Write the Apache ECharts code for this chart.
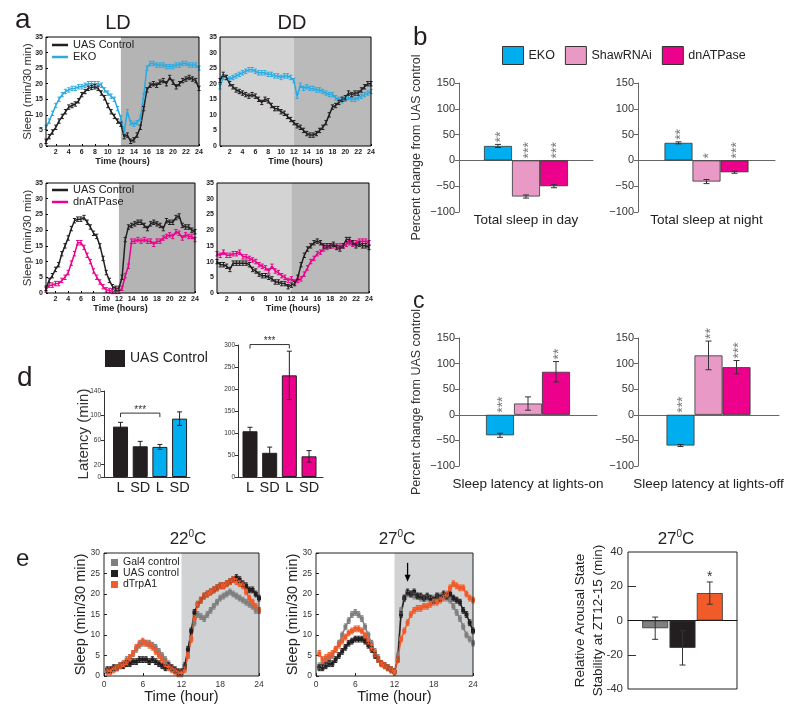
<!DOCTYPE html>
<html><head><meta charset="utf-8">
<script src="https://cdn.jsdelivr.net/npm/echarts@6/dist/echarts.min.js"></script>
<style>html,body{margin:0;padding:0;background:#fff}#c{width:800px;height:714px}</style>
</head><body><div id="c"></div>
<script>
// ---------------- DATA ----------------
const hours = [0.5,1,1.5,2,2.5,3,3.5,4,4.5,5,5.5,6,6.5,7,7.5,8,8.5,9,9.5,10,10.5,11,11.5,12,12.5,13,13.5,14,14.5,15,15.5,16,16.5,17,17.5,18,18.5,19,19.5,20,20.5,21,21.5,22,22.5,23,23.5,24];
const aTickHours = [2,4,6,8,10,12,14,16,18,20,22,24];
const ldDark = [[12,24]];
const ddPhases = [[0.5,12],[12,24]];
const eDark = [[12,24]];
const semA = 0.7, semE = 0.7;

const ldTopUAS = [1.5,3,4.5,6,8,9.5,11,12.5,13,13.5,14.5,16.5, 17.5,18.5,18.8,19,18.5,17,15.5,13,11,9.5,8,7, 3,3.5,1.5,2,3.5,6,12,18,19.5,20,19.5,20.5, 21,20,22,20.5,19,20,21,21.5,22,21.5,21,18.5];
const ldTopEKO = [6,8,10.5,13,15,16.5,17.5,18,18.5,18.5,19,19, 19.5,20,20,20,20,19.5,18,17,16,15,12,9, 4.5,11,7.5,7,7.5,9,16,25,26.5,26.5,26,26, 26,25.5,25.5,25.5,26,26,26.5,26.5,26,26,26,25];
const ddTopUAS = [21,23,22,20,19,18,17.5,17,16.5,16,16.5,16, 15,14,15,14.5,13,12,12,11,10.5,9.5,8.5,7.5, 6.5,6,5,4,3.5,3.5,4,5,6,7.5,10,12.5, 13,14,15,15.5,17,16.5,17,17,18,19,20,20];
const ddTopEKO = [19,22,22,21.5,22,22.5,23,23.5,24,24.5,24.5,24, 23.5,23.5,23.5,23,23,22.5,22.5,22,22.5,22.5,22,21, 16,19.5,18.5,19,18.5,18.5,18,18,17.5,17,16.5,16.5, 15.5,15,14.5,15,15.5,15,15,15.5,16,16.5,17,17.5];
const ldBotUAS = [1.5,4,5.5,7.5,9,12.5,15,17.5,20.5,23,23.5,23.5, 24,22.5,21,19,18,15,11,6.5,4,2,1.5,1.5, 5,17,21,21.5,22,22.5,22.5,21.5,20.5,22,22.5,22, 21.5,20.5,23,22.5,22.5,24,24.5,21.5,21,21,20,19.5];
const ldBotATP = [1,2.5,2.5,3,3,4,5,6.5,9.5,12.5,16,16, 14.5,12,10,7,5,3.5,2,1,0.8,0.5,0.5,0.5, 1.5,5.5,8.5,16.5,16.5,17,16.5,17,16.5,16.5,15.5,16.5, 16.5,17.5,18,18.5,18,19.5,19,17.5,18.5,18,18,17];
const ddBotUAS = [10,9,9,8.5,7.5,9.5,9.5,9.5,9.5,9.5,9,7.5, 7,6,5.5,5.5,5,4.5,3.5,3.5,3,3,2,2.5, 3,5,9,12,14,15,16,16.5,16,15,15,15, 15.5,14.5,14,15,17,17,16,15,15.5,15,15,14.5];
const ddBotATP = [12.5,12,13,12,12,12.5,12.5,13,11.5,11.5,11,10.5, 10,9,8.5,8,7,8.5,7,6.5,5.5,5,4,4.5, 3.5,4,4.5,6,8,10,11,12.5,13,14,14.5,15, 15,15,15,15,15.5,16,15.5,16,16.5,16.5,16.5,16];

const genotypes = ['EKO','ShawRNAi','dnATPase'];
const bDayPct = [28,-70,-50],  bDayErr = [3,3,3],  bDayStars = ['**','***','***'];
const bNightPct = [34,-41,-23], bNightErr = [2,4,2], bNightStars = ['**','*','***'];
const cOnPct = [-40,22,84],   cOnErr = [4,13,20],  cOnStars = ['***','','**'];
const cOffPct = [-60,116,93], cOffErr = [2,28,13], cOffStars = ['***','**','***'];

const dCats = ['L','SD','L','SD'];
const dEkoLat = [82,50,49,95], dEkoErr = [7,8,4,11];
const dAtpLat = [104,55,231,47], dAtpErr = [9,13,55,13];
const dEkoTicks = [0,20,60,100,140];
const dAtpTicks = [0,50,100,150,200,250,300];
const dEkoSig = [[1,3,104]], dAtpSig = [[1,3,301]];

const eGenos = ['Gal4 control','UAS control','dTrpA1'];
const e22Gal4 = [1.5,1.5,2,2,2.5,3,4,4.5,5.5,6.5,7.5,8, 8,8,7.5,7,6,5,4,3,2,1.5,1,1, 2,5,9,13,15,14.5,14,15,16,17,18,19, 19.5,20,20.5,20,19.5,19,18.5,18,17.5,17,16,16];
const e22UAS  = [1.5,1.5,2,2,2.5,2.5,3,3,3.5,3.5,4,4, 4,3.5,4,3.5,3,2.5,2,2.5,2,1.5,1,1, 2.5,6.5,11,15.5,17.5,18.5,19.5,20,20.5,21,21.5,22, 22,22.5,23,23.5,24,23.5,22.5,22,21,21,20,19];
const e22Trp  = [1,1,1.5,2,2.5,3,3.5,4.5,5.5,7,8,8.5, 8,7.5,7,6,5,4,3,2,1.5,1,0.5,0.5, 1.5,5,9,14,17.5,18.5,19.5,20,20.5,21,21.5,22, 22,22.5,23,23.5,23,22.5,22,20.5,19,18,17,16];
const e27Gal4 = [2.5,3,3.5,4,5,6.5,8,10,12,13.5,15,15.5, 15,14,12,10,8,6,4.5,3,2.5,2,1.5,1, 5,16,19,20,20,19.5,19.5,19,19,19,18.5,19, 19.5,19.5,19.5,19,18.5,17,15.5,14,12,10,9,8];
const e27UAS  = [2,2,2.5,3,3,4,5,6,7,8,8.5,9, 9,9,8.5,7.5,6.5,5,4,3,2.5,2,1.5,1, 4,15,19,20.5,20,20.5,19.5,19.5,19,19.5,19,18.5, 19.5,19,20,19.5,20,19,18.5,18,16,15,13,11];
const e27Trp  = [5.5,4,4.5,5,5.5,6.5,7.5,8.5,9.5,10.5,11,11.5, 11.5,11,10,8.5,7,5.5,4,3,2.5,2,1.5,1, 4,9,11,13,15,16,16.5,16.5,17,17,17.5,18, 18,18.5,19,20,21.5,22.5,22,21.5,21.5,20,19,18.5];
const eArrow = [[14,27.6,23.0]];
const eArousal = [-4.5,-16,16], eArousalErr = [6.5,10,6.5], eArousalStars = ['','','*'];
const eArousalTicks = [-20,20];

// ---------------- STYLE ----------------
const NF = "'Liberation Sans',Arial,sans-serif";
const C = {ctrl:'#231f20', eko:'#29abe2', ekoBar:'#00aeef', shaw:'#e899c5', atp:'#ec008c', gal4:'#7f7f7f', trp:'#f15a29'};
const genoColors = [C.ekoBar, C.shaw, C.atp];
const eColors = [C.gal4, C.ctrl, C.trp];

const grid=[], xAxis=[], yAxis=[], series=[];
const addG=o=>{grid.push(o);return grid.length-1;};
const addX=o=>{xAxis.push(Object.assign({nameMoveOverlap:false}, o));return xAxis.length-1;};
const addY=o=>{yAxis.push(Object.assign({nameMoveOverlap:false}, o));return yAxis.length-1;};

function shadeSeries(xi, yi, regions, colors){
  return {type:'custom', xAxisIndex:xi, yAxisIndex:yi, z:1, silent:true, data:regions,
    renderItem(params, api){
      const cs=params.coordSys;
      const a=api.coord([api.value(0),0])[0], b=api.coord([api.value(1),0])[0];
      return {type:'rect', shape:{x:a,y:cs.y,width:b-a,height:cs.height}, style:{fill:colors[params.dataIndex]}};
    }};
}
function tsLine(xi, yi, name, vals, color, sym){
  return {type:'line', name, xAxisIndex:xi, yAxisIndex:yi, z:3, silent:true, color,
    data:hours.map((h,i)=>[h,vals[i]]),
    showSymbol:!!sym, symbol:sym||'none', symbolSize:4, itemStyle:{color},
    lineStyle:{width:1.5, color}};
}
function tsErr(xi, yi, vals, sem, color){
  return {type:'custom', xAxisIndex:xi, yAxisIndex:yi, z:4, silent:true,
    data:hours.map((h,i)=>[h,vals[i],sem]),
    renderItem(params, api){
      const x=api.value(0), y=api.value(1), e=api.value(2);
      const p1=api.coord([x,y+e]), p2=api.coord([x,y-e]), w=1.6;
      const st={stroke:color, lineWidth:1};
      return {type:'group', children:[
        {type:'line', shape:{x1:p1[0],y1:p1[1],x2:p2[0],y2:p2[1]}, style:st},
        {type:'line', shape:{x1:p1[0]-w,y1:p1[1],x2:p1[0]+w,y2:p1[1]}, style:st},
        {type:'line', shape:{x1:p2[0]-w,y1:p2[1],x2:p2[0]+w,y2:p2[1]}, style:st}]};
    }};
}
function barErr(xi, yi, vals, errs, stars, step, vertical){
  const n=vals.length;
  return {type:'custom', xAxisIndex:xi, yAxisIndex:yi, z:5, silent:true,
    data:vals.map((v,i)=>[0,v,errs[i],i]),
    renderItem(params, api){
      const v=api.value(1), e=api.value(2), i=api.value(3);
      const off=(i-(n-1)/2)*step;
      const t=api.coord([0,v+e]), b=api.coord([0,v-e]);
      const x=t[0]+off, w=3, st={stroke:'#333', lineWidth:1};
      const ch=[
        {type:'line', shape:{x1:x,y1:t[1],x2:x,y2:b[1]}, style:st},
        {type:'line', shape:{x1:x-w,y1:t[1],x2:x+w,y2:t[1]}, style:st},
        {type:'line', shape:{x1:x-w,y1:b[1],x2:x+w,y2:b[1]}, style:st}];
      const s=stars[i];
      if(s){
        const base=api.coord([0,Math.max(0,v+e)])[1];
        if(vertical) ch.push({type:'text', x:x+3, y:base-2, rotation:Math.PI/2,
          style:{text:s, fill:'#777', fontSize:14, fontFamily:NF, align:'left', verticalAlign:'middle'}});
        else ch.push({type:'text', x:x, y:base+2,
          style:{text:s, fill:'#333', fontSize:14, fontFamily:NF, align:'center', verticalAlign:'bottom'}});
      }
      return {type:'group', children:ch};
    }};
}

// ---------------- PANEL a ----------------
const aPanels = [
  {g:{left:46,top:37,width:153,height:109}, ctrl:ldTopUAS, exp:ldTopEKO, en:'EKO', ec:C.eko, dd:false, yName:true},
  {g:{left:220,top:37,width:151,height:109}, ctrl:ddTopUAS, exp:ddTopEKO, en:'EKO', ec:C.eko, dd:true, yName:false},
  {g:{left:46,top:183,width:149,height:110}, ctrl:ldBotUAS, exp:ldBotATP, en:'dnATPase', ec:C.atp, dd:false, yName:true},
  {g:{left:217,top:183,width:152,height:110}, ctrl:ddBotUAS, exp:ddBotATP, en:'dnATPase', ec:C.atp, dd:true, yName:false}];
aPanels.forEach(p=>{
  const gi=addG(Object.assign({show:true, borderColor:'#000', borderWidth:1, z:10}, p.g));
  const xi=addX({type:'value', gridIndex:gi, min:0.5, max:24,
    axisLine:{show:false}, splitLine:{show:false},
    axisTick:{inside:true, length:2, customValues:aTickHours, lineStyle:{color:'#000'}},
    axisLabel:{customValues:aTickHours, fontSize:7, fontWeight:'bold', color:'#222', margin:3, fontFamily:NF},
    name:'Time (hours)', nameLocation:'middle', nameGap:11,
    nameTextStyle:{fontSize:9, fontWeight:'bold', color:'#222', fontFamily:NF}});
  const yi=addY({type:'value', gridIndex:gi, min:0, max:35, interval:5,
    axisLine:{show:false}, splitLine:{show:false},
    axisTick:{inside:true, length:2, lineStyle:{color:'#000'}},
    axisLabel:{fontSize:7, fontWeight:'bold', color:'#222', margin:3, fontFamily:NF},
    name:p.yName?'Sleep (min/30 min)':'', nameLocation:'middle', nameGap:12,
    nameTextStyle:{fontSize:11.5, color:'#333', fontFamily:NF}});
  series.push(p.dd ? shadeSeries(xi,yi,ddPhases,['#d3d3d3','#bababa']) : shadeSeries(xi,yi,ldDark,['#b4b4b4']));
  series.push(tsLine(xi,yi,p.en,p.exp,p.ec));
  series.push(tsErr(xi,yi,p.exp,semA,p.ec));
  series.push(tsLine(xi,yi,'UAS Control',p.ctrl,C.ctrl));
  series.push(tsErr(xi,yi,p.ctrl,semA,C.ctrl));
});

// ---------------- PANELS b, c ----------------
const bcPanels = [
  {g:{left:459,top:83,width:134,height:129}, cat:'Total sleep in day', v:bDayPct, e:bDayErr, s:bDayStars, yName:true, m:1},
  {g:{left:638,top:83,width:137,height:129}, cat:'Total sleep at night', v:bNightPct, e:bNightErr, s:bNightStars, yName:false, m:1},
  {g:{left:459,top:338,width:138,height:128}, cat:'Sleep latency at lights-on', v:cOnPct, e:cOnErr, s:cOnStars, yName:true, m:11},
  {g:{left:638,top:338,width:141,height:128}, cat:'Sleep latency at lights-off', v:cOffPct, e:cOffErr, s:cOffStars, yName:false, m:11}];
bcPanels.forEach(p=>{
  const gi=addG(p.g);
  const x0=addX({type:'category', gridIndex:gi, data:[p.cat], position:'bottom',
    axisLine:{onZero:true, lineStyle:{color:'#666', width:1}}, axisTick:{show:false}, axisLabel:{show:false}});
  addX({type:'category', gridIndex:gi, data:[p.cat], position:'bottom',
    axisLine:{show:false, onZero:false}, axisTick:{show:false},
    axisLabel:{fontSize:13.5, color:'#222', margin:p.m, fontFamily:NF}});
  const yi=addY({type:'value', gridIndex:gi, min:-100, max:150, interval:50,
    axisLine:{show:true, lineStyle:{color:'#666'}}, axisTick:{show:true, length:4, lineStyle:{color:'#666'}},
    splitLine:{show:false},
    axisLabel:{fontSize:11, color:'#333', margin:4, fontFamily:NF, formatter:v=>v<0?'\u2212'+Math.abs(v):String(v)},
    name:p.yName?'Percent change from UAS control':'', nameLocation:'middle', nameGap:36,
    nameTextStyle:{fontSize:12.5, color:'#333', fontFamily:NF}});
  genotypes.forEach((gname,k)=>{
    series.push({type:'bar', name:gname, xAxisIndex:x0, yAxisIndex:yi, data:[p.v[k]], barWidth:28, barGap:'0%',
      silent:true, z:2, itemStyle:{color:genoColors[k], borderColor:'#333', borderWidth:0.8}});
  });
  series.push(barErr(x0,yi,p.v,p.e,p.s,28,true));
});

// ---------------- PANEL d ----------------
const dPanels = [
  {g:{left:104,top:391,width:86,height:86}, min:0.16, max:4.53, ymax:140, ticks:dEkoTicks, v:dEkoLat, e:dEkoErr,
   colors:[C.ctrl,C.ctrl,C.ekoBar,C.ekoBar], sig:dEkoSig, yName:'Latency (min)'},
  {g:{left:238,top:345,width:85,height:132}, min:0.39, max:4.71, ymax:300, ticks:dAtpTicks, v:dAtpLat, e:dAtpErr,
   colors:[C.ctrl,C.ctrl,C.atp,C.atp], sig:dAtpSig, yName:''}];
dPanels.forEach(p=>{
  const gi=addG(p.g);
  const xi=addX({type:'value', gridIndex:gi, min:p.min, max:p.max,
    axisLine:{show:true, onZero:false, lineStyle:{color:'#333'}}, axisTick:{show:false}, splitLine:{show:false},
    axisLabel:{customValues:[1,2,3,4], formatter:v=>dCats[Math.round(v)-1], fontSize:14.5, color:'#222', margin:3, fontFamily:NF}});
  const yi=addY({type:'value', gridIndex:gi, min:0, max:p.ymax,
    axisLine:{show:true, lineStyle:{color:'#333'}}, splitLine:{show:false},
    axisTick:{show:true, length:3, customValues:p.ticks, lineStyle:{color:'#333'}},
    axisLabel:{customValues:p.ticks, fontSize:6.5, color:'#333', margin:3, fontFamily:NF},
    name:p.yName, nameLocation:'middle', nameGap:13, nameTextStyle:{fontSize:15, color:'#333', fontFamily:NF}});
  series.push({type:'bar', xAxisIndex:xi, yAxisIndex:yi, barWidth:15, silent:true, z:2,
    data:p.v.map((v,i)=>({value:[i+1,v], itemStyle:{color:p.colors[i]}})),
    itemStyle:{borderColor:'#231f20', borderWidth:1}});
  series.push({type:'custom', xAxisIndex:xi, yAxisIndex:yi, z:5, silent:true,
    data:p.v.map((v,i)=>[i+1,v,p.e[i]]),
    renderItem(params, api){
      const x=api.value(0), v=api.value(1), e=api.value(2);
      const t=api.coord([x,v+e]), b=api.coord([x,v-e]), w=2.5, st={stroke:'#231f20', lineWidth:1};
      return {type:'group', children:[
        {type:'line', shape:{x1:t[0],y1:t[1],x2:b[0],y2:b[1]}, style:st},
        {type:'line', shape:{x1:t[0]-w,y1:t[1],x2:t[0]+w,y2:t[1]}, style:st},
        {type:'line', shape:{x1:b[0]-w,y1:b[1],x2:b[0]+w,y2:b[1]}, style:st}]};
    }});
  series.push({type:'custom', xAxisIndex:xi, yAxisIndex:yi, z:5, silent:true, data:p.sig,
    renderItem(params, api){
      const p1=api.coord([api.value(0),api.value(2)]), p2=api.coord([api.value(1),api.value(2)]);
      return {type:'group', children:[
        {type:'polyline', shape:{points:[[p1[0],p1[1]+4],[p1[0],p1[1]],[p2[0],p2[1]],[p2[0],p2[1]+4]]}, style:{stroke:'#333', lineWidth:1, fill:null}},
        {type:'text', x:(p1[0]+p2[0])/2, y:p1[1]+2, style:{text:'***', fontSize:10, fill:'#333', align:'center', verticalAlign:'bottom', fontFamily:NF}}]};
    }});
});

// ---------------- PANEL e ----------------
const ePanels = [
  {g:{left:104,top:553,width:155,height:123}, sets:[e22Gal4,e22UAS,e22Trp], arrow:false},
  {g:{left:316,top:553,width:157,height:123}, sets:[e27Gal4,e27UAS,e27Trp], arrow:true}];
ePanels.forEach(p=>{
  const gi=addG(Object.assign({show:true, borderColor:'#222', borderWidth:1, z:10}, p.g));
  const xi=addX({type:'value', gridIndex:gi, min:0, max:24, interval:6,
    axisLine:{show:false}, splitLine:{show:false},
    axisTick:{inside:true, length:3, lineStyle:{color:'#222'}},
    axisLabel:{fontSize:8.5, color:'#333', margin:4, fontFamily:NF},
    name:'Time (hour)', nameLocation:'middle', nameGap:13, nameTextStyle:{fontSize:14.5, color:'#222', fontFamily:NF}});
  const yi=addY({type:'value', gridIndex:gi, min:0, max:30, interval:5,
    axisLine:{show:false}, splitLine:{show:false},
    axisTick:{inside:true, length:3, lineStyle:{color:'#222'}},
    axisLabel:{fontSize:8.5, color:'#333', margin:4, fontFamily:NF},
    name:'Sleep (min/30 min)', nameLocation:'middle', nameGap:16, nameTextStyle:{fontSize:14.5, color:'#222', fontFamily:NF}});
  series.push(shadeSeries(xi,yi,eDark,['#d1d2d4']));
  p.sets.forEach((vals,k)=>{
    series.push(tsLine(xi,yi,eGenos[k],vals,eColors[k],'rect'));
    series.push(tsErr(xi,yi,vals,semE,eColors[k]));
  });
  if(p.arrow) series.push({type:'custom', xAxisIndex:xi, yAxisIndex:yi, z:6, silent:true, data:eArrow,
    renderItem(params, api){
      const a=api.coord([api.value(0),api.value(1)]), b=api.coord([api.value(0),api.value(2)]);
      return {type:'group', children:[
        {type:'line', shape:{x1:a[0],y1:a[1],x2:b[0],y2:b[1]-5}, style:{stroke:'#000', lineWidth:1.3}},
        {type:'polygon', shape:{points:[[b[0]-3,b[1]-7],[b[0]+3,b[1]-7],[b[0],b[1]]]}, style:{fill:'#000'}}]};
    }});
});
{
  const gi=addG({left:628,top:552,width:109,height:137, show:true, borderColor:'#222', borderWidth:1, z:10});
  const xi=addX({type:'category', gridIndex:gi, data:['ZT12-15'],
    axisLine:{onZero:true, lineStyle:{color:'#111', width:1}}, axisTick:{show:false}, axisLabel:{show:false}});
  const yi=addY({type:'value', gridIndex:gi, min:-40, max:40, interval:20,
    axisLine:{show:false}, splitLine:{show:false},
    axisTick:{show:true, inside:true, length:8, customValues:eArousalTicks, lineStyle:{color:'#333'}},
    axisLabel:{fontSize:11.5, color:'#333', margin:5, fontFamily:NF},
    name:'Relative Arousal State\nStability at ZT12-15 (min)', nameLocation:'middle', nameGap:21,
    nameTextStyle:{fontSize:13.5, lineHeight:18, color:'#222', fontFamily:NF}});
  eGenos.forEach((gname,k)=>{
    series.push({type:'bar', name:gname, xAxisIndex:xi, yAxisIndex:yi, data:[eArousal[k]], barWidth:26, barGap:'5%',
      silent:true, z:2, itemStyle:{color:eColors[k], borderColor:'#333', borderWidth:0.8}});
  });
  series.push(barErr(xi,yi,eArousal,eArousalErr,eArousalStars,27.3,false));
}

// ---------------- LEGENDS & TEXT ----------------
const legTxt = (fs,lh)=>({fontSize:fs, lineHeight:lh, color:'#222', fontFamily:NF});
const legend = [
  {data:['UAS Control','EKO'], left:52, top:39, padding:0, orient:'vertical', icon:'rect', itemWidth:16, itemHeight:2.5, itemGap:0, selectedMode:false, textStyle:legTxt(11,12)},
  {data:['UAS Control','dnATPase'], left:52, top:184, padding:0, orient:'vertical', icon:'rect', itemWidth:16, itemHeight:2.5, itemGap:0, selectedMode:false, textStyle:legTxt(11,12)},
  {data:genotypes.map((g,k)=>({name:g, itemStyle:{color:genoColors[k], borderColor:'#333', borderWidth:1}})),
   left:502, top:46, padding:0, icon:'rect', itemWidth:21, itemHeight:18, itemGap:10, selectedMode:false, textStyle:legTxt(12.5,18)},
  {data:[{name:'UAS Control', itemStyle:{color:C.ctrl}}], left:105, top:350, padding:0, icon:'rect', itemWidth:20, itemHeight:17, selectedMode:false, textStyle:legTxt(14,17)},
  {data:eGenos, left:111, top:557, padding:0, orient:'vertical', icon:'rect', itemWidth:7, itemHeight:7, itemGap:0, selectedMode:false, textStyle:legTxt(10.5,10)}
];
const T=(text,x,y,fs,align)=>({type:'text', x, y, z:20, silent:true,
  style:{text, fontSize:fs, fontFamily:NF, fill:'#231f20', align:align||'left', verticalAlign:'middle'}});
const degText=(num,x,y)=>({type:'text', x, y, z:20, silent:true,
  style:{text:'{n|'+num+'}{s|0}{n|C}', align:'center', verticalAlign:'middle',
    rich:{n:{fontSize:17, fontFamily:NF, fill:'#231f20', lineHeight:20}, s:{fontSize:10, fontFamily:NF, fill:'#231f20', verticalAlign:'top', lineHeight:12}}}});
const graphic = [
  T('a',15,20,28), T('b',413,38,26), T('c',413,302,23), T('d',17,378,28), T('e',16,559,24),
  T('LD',118,23,20,'center'), T('DD',292,23,20,'center'),
  degText('22',188,539), degText('27',397,539), degText('27',676,539)
];

const chart = echarts.init(document.getElementById('c'), null, {renderer:'canvas'});
chart.setOption({animation:false, backgroundColor:'#fff', textStyle:{fontFamily:NF},
  grid, xAxis, yAxis, series, legend, graphic});
</script></body></html>
